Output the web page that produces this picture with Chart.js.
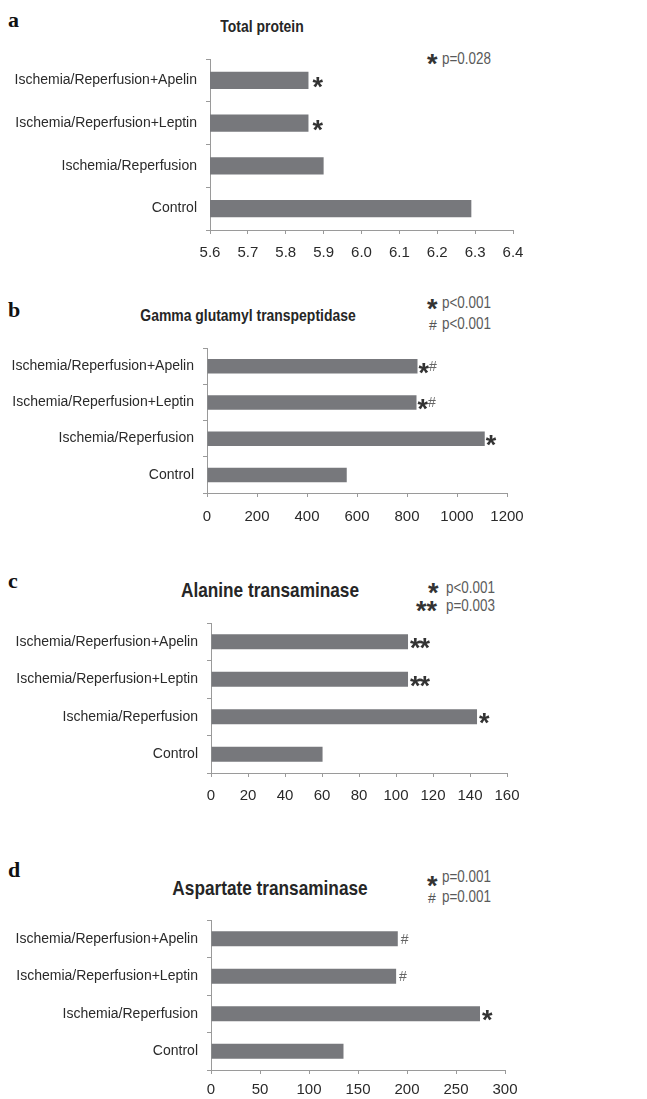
<!DOCTYPE html>
<html>
<head>
<meta charset="utf-8">
<script src="https://cdn.jsdelivr.net/npm/chart.js@4.4.1/dist/chart.umd.min.js"></script>
<style>
  body { margin: 0; background: #fff; width: 647px; height: 1099px; position: relative; overflow: hidden;
         font-family: "Liberation Sans", Arial, sans-serif; }
  .abs { position: absolute; white-space: nowrap; line-height: 1; }
  .letter { font-family: "Liberation Serif", serif; font-weight: bold; font-size: 22px; color: #111; left: 8px; }
  .title { font-weight: bold; color: #262626; text-align: center; width: 400px; transform: scaleX(0.82); }
  .note { font-size: 16px; color: #5a5a5a; transform: scaleX(0.84); transform-origin: left center; }
  .star { font-weight: bold; font-size: 27px; color: #333; }
  .hash { font-size: 14px; color: #555; }
  canvas { position: absolute; left: 0; }
</style>
</head>
<body>
<div class="abs letter" style="top:9px">a</div>
<div class="abs title" style="left:62px;top:18px;font-size:17px">Total protein</div>
<div class="abs star" style="left:427px;top:51px">*</div>
<div class="abs note" style="left:442px;top:51px">p=0.028</div>
<canvas id="chart-a" width="647" height="225" style="top:40px"></canvas>

<div class="abs letter" style="top:299px">b</div>
<div class="abs title" style="left:48px;top:307px;font-size:17px">Gamma glutamyl transpeptidase</div>
<div class="abs star" style="left:427px;top:296px">*</div>
<div class="abs note" style="left:442px;top:295px">p&lt;0.001</div>
<div class="abs hash" style="left:429px;top:318px">#</div>
<div class="abs note" style="left:442px;top:316px">p&lt;0.001</div>
<canvas id="chart-b" width="647" height="198" style="top:330px"></canvas>

<div class="abs letter" style="top:570px">c</div>
<div class="abs title" style="left:70px;top:579px;font-size:21px">Alanine transaminase</div>
<div class="abs star" style="left:428px;top:580px">*</div>
<div class="abs note" style="left:446px;top:580px">p&lt;0.001</div>
<div class="abs star" style="left:416px;top:598px">**</div>
<div class="abs note" style="left:446px;top:598px">p=0.003</div>
<canvas id="chart-c" width="647" height="203" style="top:605px"></canvas>

<div class="abs letter" style="top:859px">d</div>
<div class="abs title" style="left:70px;top:877px;font-size:21px">Aspartate transaminase</div>
<div class="abs star" style="left:427px;top:873px">*</div>
<div class="abs note" style="left:442px;top:869px">p=0.001</div>
<div class="abs hash" style="left:428px;top:891px">#</div>
<div class="abs note" style="left:442px;top:889px">p=0.001</div>
<canvas id="chart-d" width="647" height="199" style="top:900px"></canvas>

<script>
// Four liver/protein panels, same four groups, top to bottom as in the figure.
const GROUPS = [
  "Ischemia/Reperfusion+Apelin",
  "Ischemia/Reperfusion+Leptin",
  "Ischemia/Reperfusion",
  "Control",
];

const TOTAL_PROTEIN = [5.86, 5.86, 5.90, 6.29];
const GGT = [842, 838, 1111, 559];
const ALT = [106.5, 106.5, 143.8, 60.3];
const AST = [190.6, 188.9, 274.5, 135.2];

// axis range as [min, max, step]
const TP_AXIS = [5.6, 6.4, 0.1];
const GGT_AXIS = [0, 1200, 200];
const ALT_AXIS = [0, 160, 20];
const AST_AXIS = [0, 300, 50];

// significance marks printed after each bar
const TP_MARKS = ["*", "*", "", ""];
const GGT_MARKS = ["*#", "*#", "*", ""];
const ALT_MARKS = ["**", "**", "*", ""];
const AST_MARKS = ["#", "#", "*", ""];

const BAR = "#77787c";
const AXIS = "#9a9a9a";
const INK = "#2a2a2a";
const FONT = '"Liberation Sans", Arial, sans-serif';

function marksPlugin(marks, gap) {
  return {
    id: "marks",
    afterDatasetsDraw(chart) {
      const ctx = chart.ctx;
      ctx.save();
      ctx.textBaseline = "alphabetic";
      chart.getDatasetMeta(0).data.forEach((bar, i) => {
        let x = bar.x + gap;
        for (const ch of marks[i]) {
          if (ch === "*") {
            ctx.font = 'bold 27px "Liberation Sans", sans-serif';
            ctx.fillStyle = "#333";
            ctx.fillText("*", x, bar.y + 15.5);
            x += ctx.measureText("*").width - 1;
          } else {
            ctx.font = '14px "Liberation Sans", sans-serif';
            ctx.fillStyle = "#666";
            ctx.fillText("#", x + 1, bar.y + 5);
            x += ctx.measureText("#").width + 1;
          }
        }
      });
      ctx.restore();
    },
  };
}

function drawPanel(id, values, axis, marks, box) {
  const [min, max, step] = axis;
  const decimals = step < 1 ? 1 : 0;
  new Chart(document.getElementById(id), {
    type: "bar",
    data: {
      labels: GROUPS,
      datasets: [{
        data: values,
        backgroundColor: BAR,
        categoryPercentage: 1,
        barPercentage: 0.4,
      }],
    },
    options: {
      indexAxis: "y",
      responsive: false,
      animation: false,
      layout: { padding: { top: box.top, right: 647 - box.right, left: 0, bottom: 0 } },
      plugins: { legend: { display: false }, tooltip: { enabled: false } },
      scales: {
        x: {
          min, max,
          afterFit: s => { s.height = box.xh; },
          grid: { drawOnChartArea: false, drawTicks: true, tickLength: 4, color: AXIS },
          border: { color: AXIS },
          ticks: {
            stepSize: step, autoSkip: false, maxRotation: 0, padding: box.tp,
            color: INK, font: { family: FONT, size: 15 },
            callback: v => Number(v).toFixed(decimals),
          },
        },
        y: {
          afterFit: s => { s.width = box.left; },
          grid: { offset: true, drawOnChartArea: false, drawTicks: true, tickLength: 4, color: AXIS },
          border: { color: AXIS },
          ticks: { padding: 9, color: INK, font: { family: FONT, size: 14 } },
        },
      },
    },
    plugins: [marksPlugin(marks, box.gap)],
  });
}

drawPanel("chart-a", TOTAL_PROTEIN, TP_AXIS, TP_MARKS, { top: 19, left: 210, right: 513, xh: 35, gap: 4, tp: 10 });
drawPanel("chart-b", GGT, GGT_AXIS, GGT_MARKS, { top: 18, left: 207, right: 507, xh: 35, gap: 1, tp: 11 });
drawPanel("chart-c", ALT, ALT_AXIS, ALT_MARKS, { top: 18, left: 211, right: 507, xh: 35, gap: 2, tp: 10 });
drawPanel("chart-d", AST, AST_AXIS, AST_MARKS, { top: 20, left: 211, right: 505, xh: 29, gap: 2, tp: 7 });
</script>
</body>
</html>
